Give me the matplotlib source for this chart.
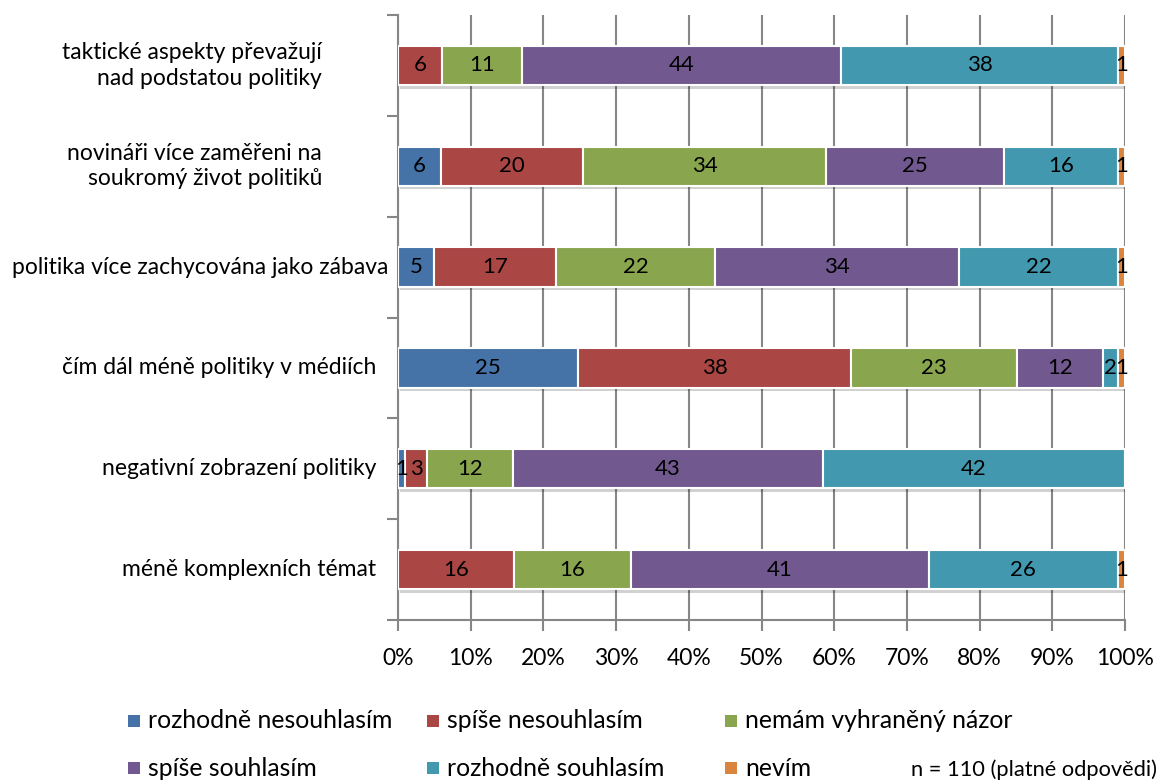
import matplotlib
matplotlib.use("Agg")
import matplotlib.pyplot as plt
import matplotlib.patheffects as pe
import matplotlib.transforms as mtransforms
from matplotlib.patches import Rectangle
import numpy as np

categories = [
    "taktické aspekty převažují\nnad podstatou politiky",
    "novináři více zaměřeni na\nsoukromý život politiků",
    "politika více zachycována jako zábava",
    "čím dál méně politiky v médiích",
    "negativní zobrazení politiky",
    "méně komplexních témat",
]
series_names = ["rozhodně nesouhlasím", "spíše nesouhlasím", "nemám vyhraněný názor",
                "spíše souhlasím", "rozhodně souhlasím", "nevím"]
colors = ["#4572A7", "#AA4643", "#89A54E", "#71588F", "#4198AF", "#DB843D"]
# rows = categories (top to bottom), columns = series
values = [
    [0, 6, 11, 44, 38, 1],
    [6, 20, 34, 25, 16, 1],
    [5, 17, 22, 34, 22, 1],
    [25, 38, 23, 12, 2, 1],
    [1, 3, 12, 43, 42, 0],
    [0, 16, 16, 41, 26, 1],
]
xtick_labels = ["0%", "10%", "20%", "30%", "40%", "50%", "60%", "70%", "80%", "90%", "100%"]
note = "n = 110 (platné odpovědi)"

FAM = "Lato"
W, H = 1159, 781
fig = plt.figure(figsize=(W / 100, H / 100), dpi=100)
renderer = fig.canvas.get_renderer()

def fit(text, px):
    t = fig.text(0, 0, text, fontsize=10, family=FAM)
    w = t.get_window_extent(renderer).width
    t.remove()
    return 10 * px / w

fs_cat = fit("politika více zachycována jako zábava", 376)
fs_tick = fit("10%", 45)
fs_bar = fit("44", 26)
fs_leg = fit("rozhodně nesouhlasím", 244)
fs_note = fit(note, 247)

ax_l, ax_r, ax_t, ax_b = 398, 1125, 15, 620
ax = fig.add_axes([ax_l / W, 1 - ax_b / H, (ax_r - ax_l) / W, (ax_b - ax_t) / H])

vals = np.array(values, dtype=float)
pct = vals / vals.sum(axis=1, keepdims=True) * 100
n = len(categories)
ypos = np.arange(n)
left = np.zeros(n)
shadow = [pe.SimplePatchShadow(offset=(1.5, -2.5), shadow_rgbFace="black", alpha=0.18), pe.Normal()]
for j, name in enumerate(series_names):
    bars = ax.barh(ypos, pct[:, j], left=left, height=0.39, color=colors[j],
                   edgecolor="white", linewidth=1.5, label=name, zorder=3)
    for b in bars:
        b.set_path_effects(shadow)
    for i in range(n):
        if vals[i, j] > 0:
            ax.text(left[i] + pct[i, j] / 2, ypos[i], f"{int(vals[i, j])}",
                    ha="center", va="center", fontsize=fs_bar, family=FAM,
                    color="black", zorder=4)
    left += pct[:, j]

ax.set_xlim(0, 100)
ax.set_ylim(n - 0.5, -0.5)
ax.set_xticks(np.arange(0, 101, 10))
ax.set_xticklabels(xtick_labels, fontsize=fs_tick, family=FAM)
ax.set_yticks(np.arange(-0.5, n, 1))
ax.set_yticklabels([])
ax.tick_params(axis="x", length=8, width=1.5, color="#868686", pad=12)
ax.tick_params(axis="y", length=8, width=1.5, color="#868686")
ax.grid(axis="x", color="#868686", linewidth=1.5, zorder=0)
ax.set_axisbelow(True)
for s in ["top", "right"]:
    ax.spines[s].set_visible(False)
for s in ["left", "bottom"]:
    ax.spines[s].set_color("#868686")
    ax.spines[s].set_linewidth(1.5)

# category labels
blend = mtransforms.blended_transform_factory(fig.transFigure, ax.transData)
for i, c in enumerate(categories):
    if "\n" in c:
        xr = 322
    elif c == "politika více zachycována jako zábava":
        xr = 388
    else:
        xr = 376
    ax.text(xr / W, ypos[i], c, transform=blend,
            ha="right", va="center", multialignment="right", fontsize=fs_cat,
            family=FAM, linespacing=1.25)

# legend (manual layout)
col_x = [128, 427, 725]
row_y = [721, 768]
sq = 12
for k, name in enumerate(series_names):
    cx = col_x[k % 3]
    cy = row_y[k // 3]
    fig.patches.append(Rectangle((cx / W, 1 - (cy + sq / 2) / H), sq / W, sq / H,
                                 transform=fig.transFigure, facecolor=colors[k],
                                 edgecolor="none"))
    fig.text((cx + 20) / W, 1 - cy / H, name, ha="left", va="center",
             fontsize=fs_leg, family=FAM)

fig.text(1157 / W, 1 - 770 / H, note, ha="right", va="center", fontsize=fs_note, family=FAM)

fig.savefig("out.png", dpi=100, facecolor="white")
